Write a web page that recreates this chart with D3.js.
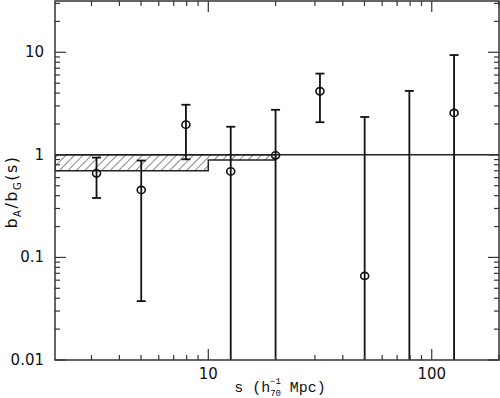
<!DOCTYPE html>
<html>
<head>
<meta charset="utf-8">
<script src="https://cdn.jsdelivr.net/npm/d3@7"></script>
<style>
  body { margin: 0; background: #fff; }
  text { font-family: "DejaVu Sans", sans-serif; fill: #111; }
</style>
</head>
<body>
<div id="chart"></div>
<script>
// bin centres (log-spaced) and measured bias ratio
const sep   = [3.16, 5.01, 7.94, 12.6, 20.0, 31.6, 50.1, 79.4, 125.9];
const ratio = [0.66, 0.455, 1.97, 0.69, 0.99, 4.17, 0.066, 0.004, 2.56];
const errLo = [0.38, 0.0375, 0.905, 0.001, 0.001, 2.08, 0.001, 0.001, 0.001];
const errHi = [0.94, 0.88, 3.08, 1.88, 2.75, 6.2, 2.34, 4.2, 9.4];

// hatched band (step) : edges and lower bound, upper bound is 1
const bandEdges = [2.06, 10, 20];
const bandLow   = [0.70, 0.89];

const xTickLabels = [10, 100];
const yTickLabels = [0.01, 0.1, 1, 10];

const width = 500, height = 398;
const margin = {top: 1, right: 1, bottom: 38, left: 55};

const svg = d3.select('#chart').append('svg')
  .attr('width', width)
  .attr('height', height);

const x = d3.scaleLog().domain([2.06, 200]).range([margin.left, width - margin.right]);
const y = d3.scaleLog().domain([0.01, Math.pow(10, 1.5)]).range([height - margin.bottom, margin.top]);

const defs = svg.append('defs');
defs.append('clipPath').attr('id', 'clip')
  .append('rect')
    .attr('x', margin.left).attr('y', margin.top)
    .attr('width', width - margin.left - margin.right)
    .attr('height', height - margin.top - margin.bottom);

const pat = defs.append('pattern')
  .attr('id', 'hatch')
  .attr('patternUnits', 'userSpaceOnUse')
  .attr('width', 6).attr('height', 6)
  .attr('patternTransform', 'rotate(45)');
pat.append('line')
  .attr('x1', 0).attr('y1', 0).attr('x2', 0).attr('y2', 6)
  .attr('stroke', '#222').attr('stroke-width', 1.1);

const plot = svg.append('g').attr('clip-path', 'url(#clip)');

// band
let bandPath = 'M' + x(bandEdges[0]) + ',' + y(1);
bandPath += 'L' + x(bandEdges[bandEdges.length - 1]) + ',' + y(1);
for (let i = bandLow.length - 1; i >= 0; i--) {
  bandPath += 'L' + x(bandEdges[i + 1]) + ',' + y(bandLow[i]);
  bandPath += 'L' + x(bandEdges[i]) + ',' + y(bandLow[i]);
}
bandPath += 'Z';
plot.append('path')
  .attr('d', bandPath)
  .attr('fill', 'url(#hatch)')
  .attr('stroke', '#222')
  .attr('stroke-width', 1.5);

// unity line
plot.append('line')
  .attr('x1', margin.left).attr('x2', width - margin.right)
  .attr('y1', y(1)).attr('y2', y(1))
  .attr('stroke', '#222').attr('stroke-width', 1.5);

// error bars
const pts = sep.map((s, i) => ({s: s, v: ratio[i], lo: errLo[i], hi: errHi[i]}));
const eb = plot.selectAll('.err').data(pts).enter().append('g').attr('class', 'err')
  .attr('stroke', '#111').attr('stroke-width', 1.8);
eb.append('line')
  .attr('x1', d => x(d.s)).attr('x2', d => x(d.s))
  .attr('y1', d => y(d.lo)).attr('y2', d => y(d.hi));
eb.append('line')
  .attr('x1', d => x(d.s) - 4.5).attr('x2', d => x(d.s) + 4.5)
  .attr('y1', d => y(d.hi)).attr('y2', d => y(d.hi));
eb.append('line')
  .attr('x1', d => x(d.s) - 4.5).attr('x2', d => x(d.s) + 4.5)
  .attr('y1', d => y(d.lo)).attr('y2', d => y(d.lo));

plot.selectAll('.pt').data(pts).enter().append('ellipse')
  .attr('class', 'pt')
  .attr('cx', d => x(d.s)).attr('cy', d => y(d.v))
  .attr('rx', 4).attr('ry', 3.6)
  .attr('fill', 'none').attr('stroke', '#111').attr('stroke-width', 1.6);

// frame
svg.append('rect')
  .attr('x', margin.left).attr('y', margin.top)
  .attr('width', width - margin.left - margin.right)
  .attr('height', height - margin.top - margin.bottom)
  .attr('fill', 'none').attr('stroke', '#333').attr('stroke-width', 1.5);

// ticks, all pointing inward
const xTicks = x.ticks().filter(t => t >= x.domain()[0] && t <= x.domain()[1]);
const yTicks = y.ticks().filter(t => t >= y.domain()[0] && t <= y.domain()[1]);
const isMajor = t => Math.abs(Math.log10(t) - Math.round(Math.log10(t))) < 1e-6;
const tk = svg.append('g').attr('stroke', '#333').attr('stroke-width', 1.2);
const y0 = height - margin.bottom, y1 = margin.top;
const x0 = margin.left, x1 = width - margin.right;
xTicks.forEach(t => {
  const len = isMajor(t) ? 11 : 5;
  tk.append('line').attr('x1', x(t)).attr('x2', x(t)).attr('y1', y0).attr('y2', y0 - len);
  tk.append('line').attr('x1', x(t)).attr('x2', x(t)).attr('y1', y1).attr('y2', y1 + len);
});
yTicks.forEach(t => {
  const len = isMajor(t) ? 11 : 5;
  tk.append('line').attr('y1', y(t)).attr('y2', y(t)).attr('x1', x0).attr('x2', x0 + len);
  tk.append('line').attr('y1', y(t)).attr('y2', y(t)).attr('x1', x1).attr('x2', x1 - len);
});

// tick labels
svg.selectAll('.xl').data(xTickLabels).enter().append('text')
  .attr('x', d => x(d)).attr('y', y0 + 19)
  .attr('text-anchor', 'middle').attr('font-size', 15)
  .text(d => d);
svg.selectAll('.yl').data(yTickLabels).enter().append('text')
  .attr('x', x0 - 11).attr('y', d => y(d) + 5)
  .attr('text-anchor', 'end').attr('font-size', 15)
  .text(d => d);

// axis titles
const xt = svg.append('text')
  .attr('x', 280).attr('y', 392)
  .attr('text-anchor', 'middle').attr('font-size', 15)
  .style('font-family', '"Liberation Mono", monospace');
xt.append('tspan').text('s (h');
xt.append('tspan').attr('font-size', 9).attr('dy', 4).text('70');
xt.append('tspan').attr('font-size', 9).attr('dx', -11).attr('dy', -12).text('\u22121');
xt.append('tspan').attr('dy', 8).text(' Mpc)');

const yt = svg.append('text')
  .attr('transform', 'translate(17,192) rotate(-90)')
  .attr('text-anchor', 'middle').attr('font-size', 16)
  .attr('letter-spacing', 1.5);
yt.append('tspan').text('b');
yt.append('tspan').attr('font-size', 10).attr('dy', 4).text('A');
yt.append('tspan').attr('dy', -4).text('/b');
yt.append('tspan').attr('font-size', 10).attr('dy', 4).text('G');
yt.append('tspan').attr('dy', -4).text('(s)');
</script>
</body>
</html>
